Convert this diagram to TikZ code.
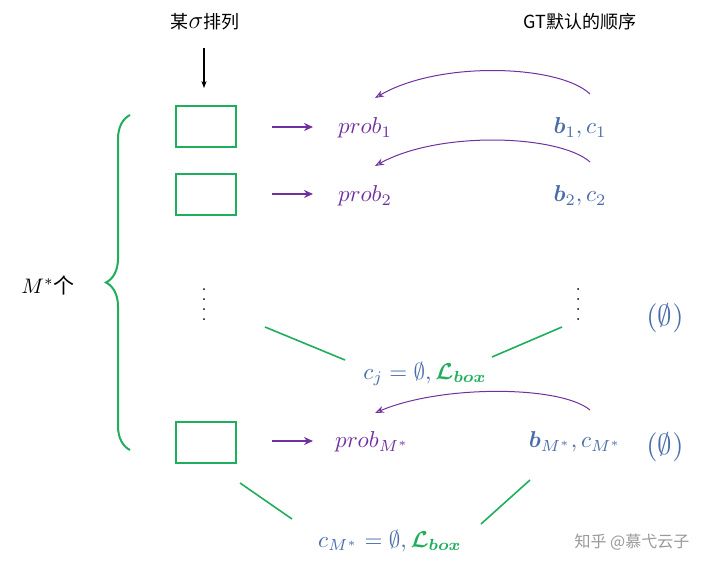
\documentclass[tikz,border=0pt]{standalone}
\usepackage{amsmath,amssymb,bm}
\usepackage{fontspec}
\newfontfamily\cjk{Noto Sans CJK SC}
\usetikzlibrary{decorations.pathreplacing,arrows.meta}
\definecolor{pur}{HTML}{7030A0}
\definecolor{grn}{HTML}{1FAE5B}
\definecolor{blu}{HTML}{4A6DAA}
\newcommand{\SB}[1]{\scalebox{2.3}{#1}}
\tikzset{box/.style={draw=grn,line width=2pt,minimum width=60pt,minimum height=41pt,inner sep=0},
 parr/.style={pur,line width=1.5pt,-{Stealth[length=9pt,width=8pt]}},
 carr/.style={pur,line width=1pt,-{Stealth[length=9pt,open]}},
 gl/.style={grn,line width=1.6pt},
 pt/.style={pur},
 bt/.style={blu},
 dot/.style={circle,fill,inner sep=0,minimum size=2pt}}
\begin{document}
\begin{tikzpicture}[x=1pt,y=-1pt]
\useasboundingbox (0,0) rectangle (720,571);
\node[font=\cjk\fontsize{18}{20}\selectfont] (t1) at (205,22) {某\scalebox{1.45}{$\sigma$}排列};
\node[font=\cjk\fontsize{18}{20}\selectfont] (t2) at (580,22) {GT默认的顺序};
\coordinate (a0) at (204,48);
\node[box] (r1) at (206,126) {};
\node[box] (r2) at (206,194) {};
\node[box] (r3) at (206,442) {};
\draw[line width=1.2pt,-{Stealth[length=7pt]}] (a0) -- (204,88);
\node[pt] (p1) at (365,128) {\SB{$prob_1$}};
\node[pt] (p2) at (365,196) {\SB{$prob_2$}};
\node[pt] (p3) at (372,442) {\SB{$prob_{M^*}$}};
\coordinate (s1) at (272,127); \coordinate (s2) at (272,194); \coordinate (s3) at (272,441);
\draw[parr] (s1) -- (313,127);
\draw[parr] (s2) -- (313,194);
\draw[parr] (s3) -- (313,441);
\node[bt] (b1) at (580,128) {\SB{$\bm{b}_1, c_1$}};
\node[bt] (b2) at (580,196) {\SB{$\bm{b}_2, c_2$}};
\node[bt] (b3) at (575,442) {\SB{$\bm{b}_{M^*}, c_{M^*}$}};
\coordinate (q1) at (590,94); \coordinate (e1) at (375,98);
\coordinate (q2) at (590,162); \coordinate (e2) at (375,166);
\coordinate (q3) at (590,410); \coordinate (e3) at (375,413);
\draw[carr] (q1) .. controls (560,65) and (440,60) .. (e1);
\draw[carr] (q2) .. controls (560,135) and (440,130) .. (e2);
\draw[carr] (q3) .. controls (560,385) and (440,385) .. (e3);
\foreach \y [count=\i] in {289,299,309,319}{
  \node[dot] (da\i) at (204,\y) {};
  \node[dot] (db\i) at (578,\y) {};}
\node[bt] (o1) at (665,318) {\scalebox{2.9}{$(\emptyset)$}};
\node[bt] (o2) at (665,447) {\scalebox{2.9}{$(\emptyset)$}};
\node[bt] (cj) at (425,374) {\SB{$c_j=\emptyset,\textcolor{grn}{\bm{\mathcal{L}}_{\bm{box}}}$}};
\node[bt] (cm) at (390,541) {\SB{$c_{M^*}=\emptyset,\textcolor{grn}{\bm{\mathcal{L}}_{\bm{box}}}$}};
\coordinate (g1) at (265,327); \coordinate (g2) at (345,360);
\coordinate (g3) at (492,357); \coordinate (g4) at (562,327);
\coordinate (g5) at (240,483); \coordinate (g6) at (292,519);
\coordinate (g7) at (481,524); \coordinate (g8) at (530,480);
\draw[gl] (g1) -- (g2); \draw[gl] (g3) -- (g4);
\draw[gl] (g5) -- (g6); \draw[gl] (g7) -- (g8);
\coordinate (k1) at (130,450); \coordinate (k2) at (130,115);
\draw[gl,line width=2pt,decorate,decoration={brace,amplitude=24pt,aspect=0.5}] (k1) -- (k2);
\node (m) at (48,285) {\scalebox{2.1}{$M^*$\cjk 个}};
\node[gray!80,font=\cjk\fontsize{16}{18}\selectfont] (w) at (632,542) {知乎 @慕弋云子};
\end{tikzpicture}
\end{document}
